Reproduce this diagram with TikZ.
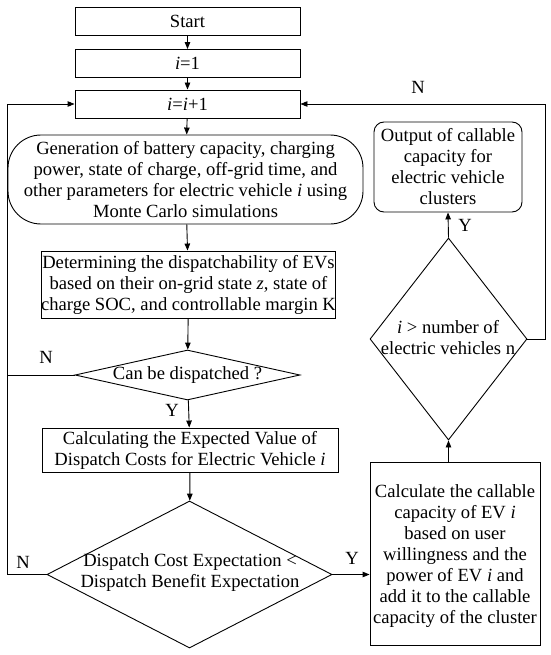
\documentclass[tikz,border=0pt]{standalone}
\usepackage{fontspec}
\setmainfont{Liberation Serif}
\usetikzlibrary{arrows.meta,shapes.geometric}

\tikzset{
  box/.style={draw,line width=0.9pt,inner sep=0pt,align=center},
  rbox/.style={box,rounded corners=#1},
  dmd/.style={draw,line width=0.9pt,diamond,inner sep=0pt},
  txt/.style={inner sep=0pt,align=center},
  lbl/.style={inner sep=0pt},
  arr/.style={line width=0.9pt,-{Triangle[length=7pt,width=5.5pt]}},
  ln/.style={line width=0.9pt}
}

\begin{document}
\begin{tikzpicture}[x=1pt,y=-1pt,font=\fontsize{18.6}{21}\selectfont]
\useasboundingbox (0,0) rectangle (550,655);

% draw left column
\node[box,minimum width=225pt,minimum height=28pt] (start) at (187.5,21.5) {Start};
\node[box,minimum width=225pt,minimum height=28pt] (init) at (187.5,63.5) {\textit{i}=1};
\node[box,minimum width=225pt,minimum height=28pt] (incr) at (187.5,104) {\textit{i}=\textit{i}+1};
\node[rbox=33pt,minimum width=355pt,minimum height=89pt] (gen) at (185.5,179.5)
  {Generation of battery capacity, charging\\
   power, state of charge, off-grid time, and\\
   other parameters for electric vehicle \textit{i} using\\
   Monte Carlo simulations};
\node[box,minimum width=293pt,minimum height=67pt] (judge) at (188.5,284.5)
  {Determining the dispatchability of EVs\\
   based on their on-grid state \textit{z}, state of\\
   charge SOC, and controllable margin K};
\node[dmd,minimum width=225pt,minimum height=50pt] (can) at (187.5,375) {};
\node[txt] (cantxt) at (can.center) {Can be dispatched ?};
\node[box,minimum width=296pt,minimum height=44pt] (cost) at (190,450)
  {Calculating the Expected Value of\\
   Dispatch Costs for Electric Vehicle \textit{i}};
\node[dmd,minimum width=285pt,minimum height=147pt] (cmp) at (189.5,574.5) {};
\node[txt] (cmptxt) at (190,573) {Dispatch Cost Expectation <\\Dispatch Benefit Expectation};

% draw right column
\node[box,minimum width=170pt,minimum height=183pt] (add) at (455,553.5) {};
\node[txt] (addtxt) at (455,556.5)
  {Calculate the callable\\
   capacity of EV \textit{i}\\
   based on user\\
   willingness and the\\
   power of EV \textit{i} and\\
   add it to the callable\\
   capacity of the cluster};
\node[dmd,minimum width=157pt,minimum height=202pt] (last) at (448.5,339) {};
\node[txt] (lasttxt) at (448,338) {\textit{i} > number of\\electric vehicles n};
\node[rbox=10pt,minimum width=148pt,minimum height=90pt] (out) at (448,167)
  {Output of callable\\capacity for\\electric vehicle\\clusters};

% loop lines
\coordinate (lft) at (7,0);
\coordinate (rgt) at (545,0);

% draw arrows
\draw[arr] (start) -- (init);
\draw[arr] (init) -- (incr);
\draw[arr] (incr) -- (gen);
\draw[arr] (gen) -- (judge);
\draw[arr] (judge) -- (can);
\draw[arr] (can) -- (cost);
\draw[arr] (cost) -- (cmp);
\draw[arr] (cmp.west) -- (cmp.west -| lft) |- (incr.west);
\draw[ln] (can.west) -- (can.west -| lft);
\draw[arr] (cmp.east) -- (cmp.east -| add.west);
\draw[arr] (last.south |- add.north) -- (last.south);
\draw[arr] (last.north) -- (out.south);
\draw[arr] (last.east) -- (last.east -| rgt) |- (incr.east);

% draw labels
\node[lbl] (yes1) at (172,410) {Y};
\node[lbl] (no1) at (46,357) {N};
\node[lbl] (no2) at (23,562) {N};
\node[lbl] (yes2) at (352,558) {Y};
\node[lbl] (yes3) at (465,225) {Y};
\node[lbl] (no3) at (418,87) {N};

\end{tikzpicture}
\end{document}
